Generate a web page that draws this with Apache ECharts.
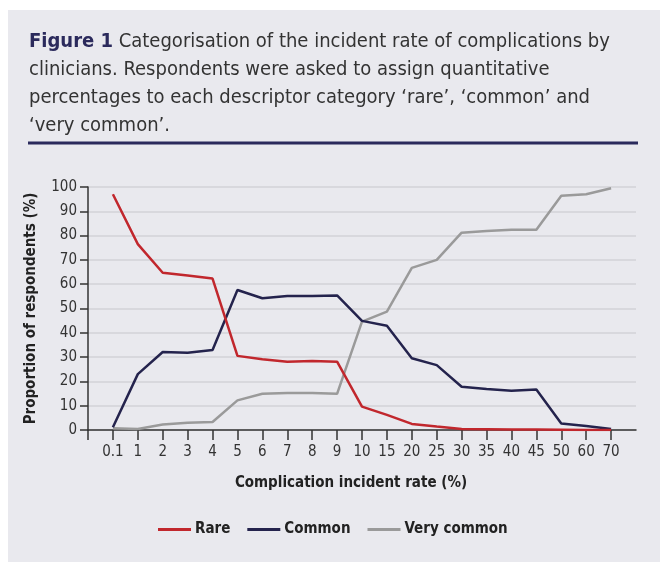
<!DOCTYPE html>
<html>
<head>
<meta charset="utf-8">
<script src="https://cdn.jsdelivr.net/npm/echarts@6/dist/echarts.min.js"></script>
<style>
  html, body { margin: 0; padding: 0; background: #ffffff; }
  #chart { width: 672px; height: 576px; }
</style>
</head>
<body>
<div id="chart"></div>
<script>
var chart = echarts.init(document.getElementById('chart'));
var font = "'DejaVu Sans Condensed', 'Liberation Sans', sans-serif";

// incident rate categories (%)
const rates = ['0.1', '1', '2', '3', '4', '5', '6', '7', '8', '9', '10',
  '15', '20', '25', '30', '35', '40', '45', '50', '60', '70'];

// proportion of respondents (%)
const rare = [97.0, 76.5, 64.7, 63.6, 62.3, 30.5, 29.1, 28.1, 28.4, 28.1, 9.6,
  6.2, 2.5, 1.4, 0.4, 0.3, 0.2, 0.2, 0.1, 0, 0];
const common = [1.1, 23.0, 32.1, 31.8, 32.9, 57.6, 54.2, 55.1, 55.1, 55.4, 44.9,
  42.9, 29.5, 26.7, 17.8, 16.9, 16.2, 16.7, 2.7, 1.6, 0.4];
const veryCommon = [0.7, 0.4, 2.3, 3.0, 3.3, 12.2, 14.9, 15.2, 15.2, 14.9, 44.6,
  48.7, 66.7, 70.0, 81.2, 81.9, 82.4, 82.4, 96.4, 97.0, 99.5];

const yTicks = [0, 10, 20, 30, 40, 50, 60, 70, 80, 90, 100];

// empty slot at each end so the axis runs past the first and last rate
var cats = [''].concat(rates).concat(['']);
function pad(arr) { return [null].concat(arr); }

function line(name, values, color) {
  return {
    name: name,
    type: 'line',
    data: pad(values),
    showSymbol: false,
    symbol: 'none',
    lineStyle: { color: color, width: 2.5 },
    itemStyle: { color: color }
  };
}

var option = {
  animation: false,
  graphic: [
    {
      type: 'rect',
      z: -10,
      shape: { x: 8, y: 10, width: 652, height: 552 },
      style: { fill: '#e9e9ee' }
    },
    {
      type: 'line',
      shape: { x1: 28, y1: 143, x2: 638, y2: 143 },
      style: { stroke: '#2b2a5c', lineWidth: 3 }
    }
  ],
  title: {
    left: 29,
    top: 28,
    padding: 0,
    text: '{b|Figure 1} Categorisation of the incident rate of complications by\n' +
      'clinicians. Respondents were asked to assign quantitative\n' +
      'percentages to each descriptor category \u2018rare\u2019, \u2018common\u2019 and\n' +
      '\u2018very common\u2019.',
    textStyle: {
      fontFamily: font,
      fontSize: 20,
      fontWeight: 'normal',
      color: '#333333',
      lineHeight: 28,
      rich: {
        b: {
          fontFamily: font,
          fontSize: 20,
          fontWeight: 'bold',
          color: '#2b2a5c',
          lineHeight: 28
        }
      }
    }
  },
  legend: {
    left: 158,
    top: 522,
    padding: 0,
    icon: 'rect',
    itemWidth: 33,
    itemHeight: 3,
    itemGap: 17,
    textStyle: {
      fontFamily: font,
      fontSize: 15,
      fontWeight: 'bold',
      color: '#222222',
      padding: [0, 0, 0, -1]
    },
    data: ['Rare', 'Common', 'Very common']
  },
  grid: { left: 88, right: 36, top: 187, bottom: 146 },
  xAxis: {
    type: 'category',
    data: cats,
    boundaryGap: false,
    name: 'Complication incident rate (%)',
    nameLocation: 'middle',
    nameGap: 46,
    nameTextStyle: {
      fontFamily: font,
      fontSize: 15,
      fontWeight: 'bold',
      color: '#222222',
      padding: [0, 22, 0, 0]
    },
    axisLine: { lineStyle: { color: '#333333', width: 1.5 } },
    axisTick: {
      length: 10,
      interval: function (idx) { return idx < cats.length - 1; },
      lineStyle: { color: '#333333', width: 1.5 }
    },
    axisLabel: {
      interval: 0,
      margin: 15,
      fontFamily: font,
      fontSize: 15,
      color: '#333333'
    },
    splitLine: { show: false }
  },
  yAxis: {
    type: 'value',
    min: yTicks[0],
    max: yTicks[yTicks.length - 1],
    interval: yTicks[1] - yTicks[0],
    name: 'Proportion of respondents (%)',
    nameLocation: 'middle',
    nameGap: 49,
    nameTextStyle: {
      fontFamily: font,
      fontSize: 15,
      fontWeight: 'bold',
      color: '#222222'
    },
    axisLine: { show: true, lineStyle: { color: '#333333', width: 1.5 } },
    axisTick: { show: true, length: 8, lineStyle: { color: '#333333', width: 1.5 } },
    axisLabel: {
      margin: 11,
      fontFamily: font,
      fontSize: 15,
      color: '#333333'
    },
    splitLine: { lineStyle: { color: '#d2d2d7', width: 1.5 } }
  },
  series: [
    line('Very common', veryCommon, '#9a9a9a'),
    line('Common', common, '#24234d'),
    line('Rare', rare, '#c1272d')
  ]
};

option && chart.setOption(option);
</script>
</body>
</html>
